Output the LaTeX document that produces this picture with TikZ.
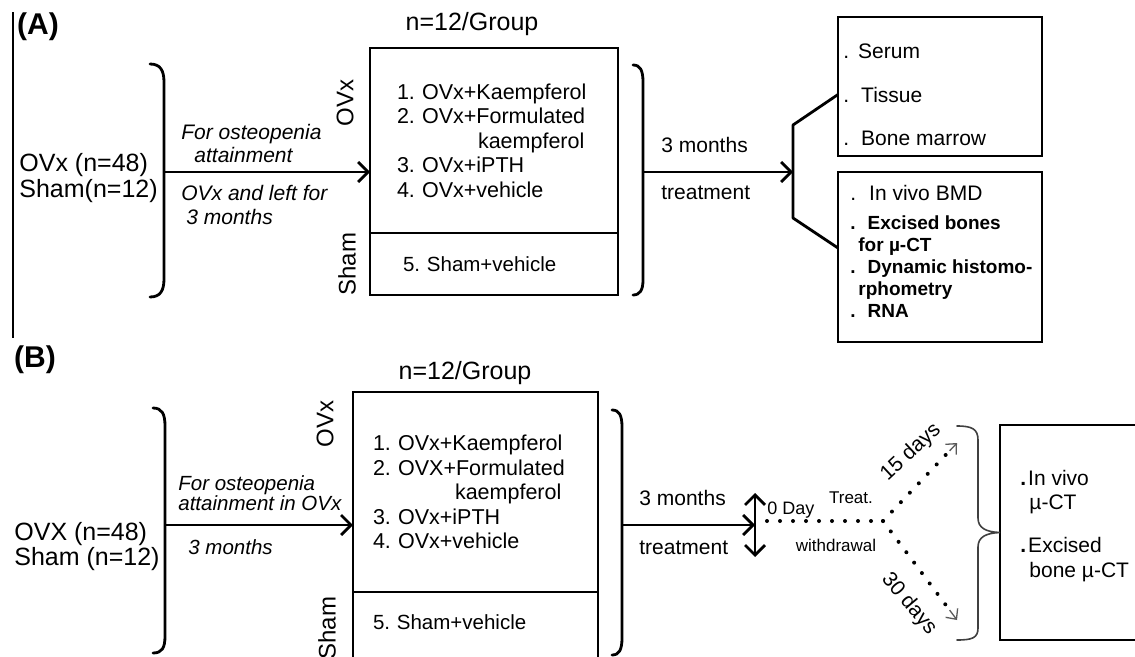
\documentclass[tikz,border=0pt]{standalone}
\usepackage{fontspec}
\setmainfont{Liberation Sans}
\usetikzlibrary{arrows.meta,positioning,calc}
\AtBeginDocument{\frenchspacing}
\tikzset{
box/.style = {draw, line width=2.8pt, outer sep=0pt, inner sep=0pt},
grp/.style = {box, align=left, font=\fontsize{21.5}{24.5}\selectfont},
brk/.style = {line width=2.8pt, line cap=round},
thinbrk/.style = {line width=1.6pt, line cap=round, black!75},
tag/.style = {inner sep=0pt, font=\fontsize{30}{32}\selectfont\bfseries},
lbl/.style = {inner sep=0pt, font=\fontsize{25}{26}\selectfont},
mid/.style = {inner sep=0pt, font=\fontsize{21}{23}\selectfont},
small/.style = {inner sep=0pt, font=\fontsize{17}{19}\selectfont},
note/.style = {inner sep=0pt, align=left, font=\fontsize{21}{23.5}\selectfont\itshape},
side/.style = {inner sep=0pt, rotate=90, font=\fontsize{24}{26}\selectfont},
dotline/.style = {line width=4pt, line cap=round, dash pattern=on 0pt off 13pt},
thintip/.style = {line width=1.3pt, black!65, -{Straight Barb[length=8pt,width=15pt]}}
}
\begin{document}
\begin{tikzpicture}[x=1pt, y=-1pt, line width=2.8pt, >={Straight Barb[length=10pt,width=20pt]}]
\useasboundingbox (0,0) rectangle (1135,656);

% ---- panel (A) ----
\draw[line width=1.5pt] (13,12) -- (13,338);
\node[tag] (tagA) at (38,27) {(A)};
\node[lbl, anchor=west, align=left] (popA) at (18,178) {OVx (n=48)\\Sham(n=12)};
\draw[brk] (150,64) .. controls (160,64) and (164,70) .. (164,82) -- (164,279) .. controls (164,291) and (160,297) .. (150,297);
\coordinate (brA1) at (164,172);

\node[grp, text width=194pt, inner xsep=27pt, minimum height=185pt, anchor=north west] (grpA) at (370,48)
  {1. OVx+Kaempferol\\2. OVx+Formulated\\\hspace*{81pt}kaempferol\\3. OVx+iPTH\\4. OVx+vehicle};
\node[grp, text width=182pt, inner xsep=33pt, minimum height=62pt, below=0pt of grpA, font=\fontsize{20.5}{24}\selectfont] (shamA) {5. Sham+vehicle};
\node[lbl] (nA) at (472,24) {n=12/Group};
\node[side] (ovxA) at (345,103) {OVx};
\node[side] (shmA) at (347,264) {Sham};

\draw[->] (brA1) -- (brA1 -| grpA.west);
\node[note, anchor=west] (forA) at (180,143.5) {For osteopenia\\\hspace*{13pt}attainment};
\node[note, anchor=west] (leftA) at (180,205) {OVx and left for\\\hspace*{5pt}3 months};

\draw[brk] (633,65) .. controls (640,65) and (643,70) .. (643,82) -- (643,280) .. controls (643,290) and (640,295) .. (633,295);
\coordinate (brA2) at (643,172);
\coordinate (fork) at (793,172);
\coordinate (forkT) at (793,125);
\coordinate (forkB) at (793,218);
\draw[->] (brA2) -- (fork);
\node[mid, anchor=west] (mthA) at (660,145) {3 months};
\node[mid, anchor=west] (trtA) at (660,193) {treatment};

\node[box, minimum width=204pt, minimum height=139pt, anchor=north west] (outA1) at (838,17) {};
\node[box, minimum width=204pt, minimum height=170pt, below=16pt of outA1] (outA2) {};
\draw[line join=round] ([yshift=-8pt]outA1.west) -- (forkT) -- (forkB) -- ([yshift=9pt]outA2.west);

\node[inner sep=0pt, anchor=west, align=left, font=\fontsize{21}{43.5}\selectfont] (smpA) at (842,95)
  {.\hspace{9pt}Serum\\.\hspace{12pt}Tissue\\.\hspace{12pt}Bone marrow};
\node[inner sep=0pt, anchor=west, align=left, font=\fontsize{19}{22}\selectfont\bfseries] (msrA) at (849,251)
  {{\mdseries\fontsize{21}{22}\selectfont .\hspace{13pt}In vivo BMD}\\[7pt]
   .\hspace{12pt}Excised bones\\\hspace*{8pt}for µ-CT\\
   .\hspace{12pt}Dynamic histomo-\\\hspace*{8pt}rphometry\\
   .\hspace{12pt}RNA};

% ---- panel (B) ----
\node[tag] (tagB) at (35,360) {(B)};
\node[lbl, anchor=west, align=left, font=\fontsize{25}{25}\selectfont] (popB) at (13,547) {OVX (n=48)\\Sham (n=12)};
\draw[brk] (153,408) .. controls (162,408) and (165,414) .. (165,426) -- (165,636) .. controls (165,648) and (162,653) .. (153,653);
\coordinate (brB1) at (165,525);

\node[grp, text width=205pt, inner xsep=20pt, minimum height=200pt, anchor=north west] (grpB) at (353,392)
  {1. OVx+Kaempferol\\2. OVX+Formulated\\\hspace*{82pt}kaempferol\\3. OVx+iPTH\\4. OVx+vehicle};
\node[grp, text width=205pt, inner xsep=20pt, minimum height=70pt, text depth=10pt, below=0pt of grpB, font=\fontsize{20.5}{24}\selectfont] (shamB) {5. Sham+vehicle};
\node[lbl] (nB) at (465,373) {n=12/Group};
\node[side] (ovxB) at (325,424) {OVx};
\node[side] (shmB) at (327,628) {Sham};

\draw[->] (brB1) -- (brB1 -| grpB.west);
\node[note, anchor=west, font=\fontsize{20.5}{20.5}\selectfont\itshape] (forB) at (177,493) {For osteopenia\\attainment in OVx};
\node[note, anchor=west, font=\fontsize{20.5}{20.5}\selectfont\itshape] (mthB) at (187,547) {3 months};

\draw[brk] (612,410) .. controls (619,410) and (622,415) .. (622,427) -- (622,638) .. controls (622,650) and (619,655) .. (612,655);
\coordinate (brB2) at (622,525);
\coordinate (day0) at (755,525);
\draw[->] (brB2) -- (day0);
\draw[<->] ([yshift=32pt]day0) -- ([yshift=-32pt]day0);
\node[mid, anchor=west] (mthB2) at (638,498) {3 months};
\node[mid, anchor=west] (trtB) at (638,548) {treatment};

\node[inner sep=0pt, anchor=west, font=\fontsize{18}{20}\selectfont] (d0) at (766,510) {0 Day};
\coordinate (split) at (883,521);
\coordinate (d15) at (957,443);
\coordinate (d30) at (957,620);
\draw[dotline] ([xshift=12pt,yshift=4pt]day0) -- (split);
\draw[dotline] (split) -- ($(split)!0.86!(d15)$);
\draw[dotline] (split) -- ($(split)!0.86!(d30)$);
\draw[thintip] ($(split)!0.9!(d15)$) -- (d15);
\draw[thintip] ($(split)!0.9!(d30)$) -- (d30);
\node[small] (trt) at (851,498) {Treat.};
\node[small] (wdr) at (836,545) {withdrawal};
\node[inner sep=0pt, rotate=43, font=\fontsize{21}{23}\selectfont] (l15) at (911,452) {15 days};
\node[inner sep=0pt, rotate=-50, font=\fontsize{21}{23}\selectfont] (l30) at (909,604) {30 days};

\node[box, minimum width=150pt, minimum height=215pt, anchor=north west] (outB) at (1000,425) {};
\draw[thinbrk] (957,426) .. controls (972,426) and (978,429) .. (978,440) -- (978,518) .. controls (978,528) and (986,532) .. (outB.west)
  .. controls (986,533) and (978,537) .. (978,547) -- (978,628) .. controls (978,638) and (972,640) .. (957,640);
\node[inner sep=0pt, anchor=west, align=left, font=\fontsize{21}{24.5}\selectfont] (msrB) at (1019,526)
  {\textbf{.}\hspace{2pt}In vivo\\\hspace*{9pt}µ-CT\\[18.5pt]\textbf{.}\hspace{2pt}Excised\\\hspace*{9pt}bone µ-CT};
\end{tikzpicture}
\end{document}
